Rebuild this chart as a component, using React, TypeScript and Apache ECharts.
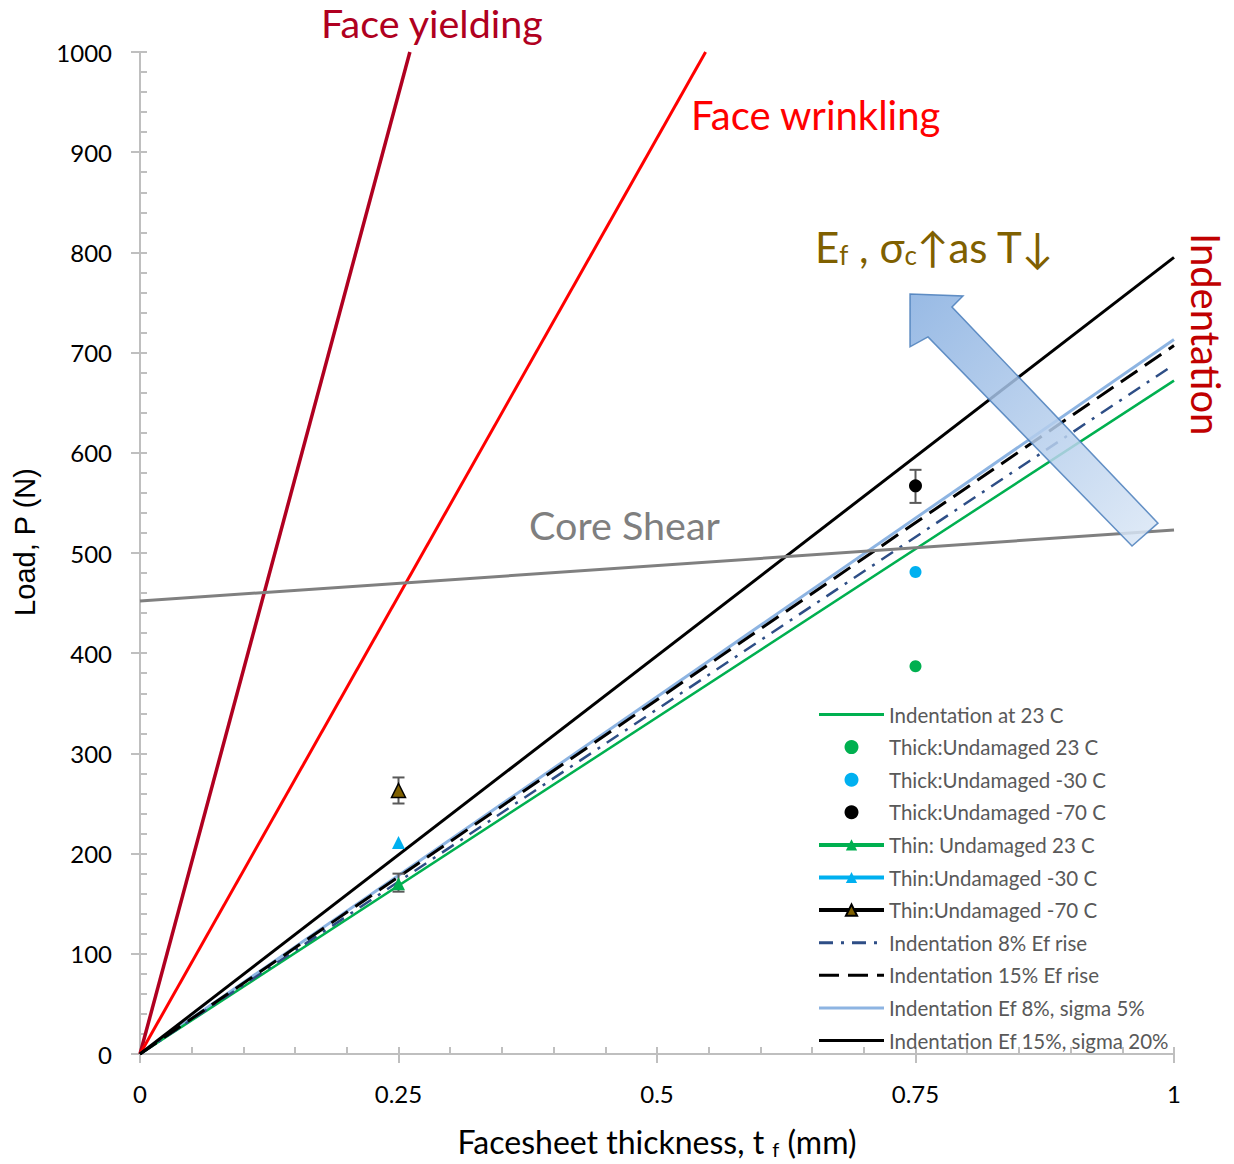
import React, { useEffect, useRef } from "react";
import * as echarts from "echarts";

// ---- data ----
const lineX = [0, 1];
const indent23 = [0, 672];
const indentEf8 = [0, 688];
const indentEf15 = [0, 707];
const indentEf8s5 = [0, 713];
const indentEf15s20 = [0, 795];
const coreShear = [452, 523];
const faceYieldX = [0, 0.261];
const faceYieldY = [0, 1000];
const faceWrinkleX = [0, 0.547];
const faceWrinkleY = [0, 1000];

const thickX = 0.75;
const thick23 = 387;
const thick30 = 481;
const thick70 = 567;
const thinX = 0.25;
const thin23 = 170;
const thin30 = 211;
const thin70 = 263;
// [x, low, high]
const errorBars = [
  [0.75, 550, 583],
  [0.25, 250, 276],
  [0.25, 162, 180],
];

// block arrow outline (data coordinates)
const arrowX = [0.7447, 0.7959, 0.7853, 0.9845, 0.9594, 0.7621, 0.7447];
const arrowY = [758.4, 756.5, 745.5, 529.8, 507.0, 715.7, 705.8];

const legendNames = [
  "Indentation at 23 C",
  "Thick:Undamaged 23 C",
  "Thick:Undamaged -30 C",
  "Thick:Undamaged -70 C",
  "Thin: Undamaged 23 C",
  "Thin:Undamaged -30 C",
  "Thin:Undamaged -70 C",
  "Indentation 8% Ef rise",
  "Indentation 15% Ef rise",
  "Indentation Ef 8%, sigma 5%",
  "Indentation Ef 15%, sigma 20%",
];
const lineOnly = new Set([
  "Indentation at 23 C",
  "Indentation 8% Ef rise",
  "Indentation 15% Ef rise",
  "Indentation Ef 8%, sigma 5%",
  "Indentation Ef 15%, sigma 20%",
]);
const thinNames = new Set(["Thin: Undamaged 23 C", "Thin:Undamaged -30 C", "Thin:Undamaged -70 C"]);

const FONT = "Lato, 'Open Sans', sans-serif";

const pair = (xs: number[], ys: number[]) => xs.map((x, i) => [x, ys[i]]);

export default function App() {
  const ref = useRef<HTMLDivElement>(null);
  useEffect(() => {
    if (!ref.current) return;
    const chart = echarts.init(ref.current, undefined, { renderer: "svg" });
    const axisGray = "#BFBFBF";
    const option: any = {
      animation: false,
      backgroundColor: "#fff",
      grid: { left: 140, right: 60, top: 52, bottom: 106, containLabel: false },
      xAxis: [
        {
          type: "value",
          min: 0,
          max: 1,
          interval: 0.25,
          axisLine: { lineStyle: { color: axisGray, width: 2 } },
          axisTick: { show: true, length: 9, inside: false, lineStyle: { color: axisGray, width: 2 } },
          splitLine: { show: false },
          axisLabel: {
            color: "#000",
            fontSize: 24,
            fontFamily: FONT,
            margin: 27,
            formatter: (v: number) => String(v),
          },
          name: "Facesheet thickness, t {s|f} (mm)",
          nameLocation: "middle",
          nameGap: 70,
          nameTextStyle: {
            color: "#000",
            fontSize: 32,
            fontFamily: FONT,
            rich: { s: { fontSize: 20, verticalAlign: "bottom", padding: [15, 0, 0, 0], fontFamily: FONT, color: "#000" } },
          },
        },
        {
          type: "value",
          min: 0,
          max: 1,
          interval: 0.05,
          position: "bottom",
          axisLine: { show: false },
          axisTick: { show: true, length: 7, inside: true, lineStyle: { color: axisGray, width: 2 } },
          axisLabel: { show: false },
          splitLine: { show: false },
        },
      ],
      yAxis: [
        {
          type: "value",
          min: 0,
          max: 1000,
          interval: 100,
          axisLine: { show: true, lineStyle: { color: axisGray, width: 2 } },
          axisTick: { show: true, length: 9, inside: false, lineStyle: { color: axisGray, width: 2 } },
          splitLine: { show: false },
          axisLabel: { color: "#000", fontSize: 24, fontFamily: FONT, margin: 28, formatter: (v: number) => String(v) },
        },
        {
          type: "value",
          min: 0,
          max: 1000,
          interval: 20,
          position: "left",
          axisLine: { show: false },
          axisTick: { show: true, length: 7, inside: true, lineStyle: { color: axisGray, width: 2 } },
          axisLabel: { show: false },
          splitLine: { show: false },
        },
      ],
      legend: {
        orient: "vertical",
        left: 812,
        top: 699,
        itemWidth: 65,
        itemHeight: 14,
        itemGap: 11.6,
        textStyle: { color: "#595959", fontSize: 20.5, fontFamily: FONT, lineHeight: 20 },
        data: legendNames.map((n) => {
          if (lineOnly.has(n)) return { name: n, itemStyle: { opacity: 0 }, lineStyle: { width: 3 } };
          if (thinNames.has(n)) return { name: n, lineStyle: { width: 4 } };
          return { name: n };
        }),
      },
      series: [
        {
          name: "Face yielding",
          type: "line",
          symbol: "none",
          data: pair(faceYieldX, faceYieldY),
          lineStyle: { color: "#B00020", width: 3.5 },
          z: 3,
        },
        {
          name: "Face wrinkling",
          type: "line",
          symbol: "none",
          data: pair(faceWrinkleX, faceWrinkleY),
          lineStyle: { color: "#FF0000", width: 3 },
          z: 3,
        },
        {
          name: "Core shear",
          type: "line",
          symbol: "none",
          data: pair(lineX, coreShear),
          lineStyle: { color: "#808080", width: 3 },
          z: 4,
        },
        {
          name: "Indentation at 23 C",
          type: "line",
          symbol: "none",
          data: pair(lineX, indent23),
          lineStyle: { color: "#00B050", width: 2.5 },
          itemStyle: { color: "#00B050" },
          z: 3,
        },
        {
          name: "Indentation 8% Ef rise",
          type: "line",
          symbol: "none",
          data: pair(lineX, indentEf8),
          lineStyle: { color: "#2E4E86", width: 2.5, type: [14, 8, 3, 8] },
          itemStyle: { color: "#2E4E86" },
          z: 3,
        },
        {
          name: "Indentation 15% Ef rise",
          type: "line",
          symbol: "none",
          data: pair(lineX, indentEf15),
          lineStyle: { color: "#000000", width: 3, type: [20, 9] },
          itemStyle: { color: "#000" },
          z: 3,
        },
        {
          name: "Indentation Ef 8%, sigma 5%",
          type: "line",
          symbol: "none",
          data: pair(lineX, indentEf8s5),
          lineStyle: { color: "#8DB4E2", width: 3 },
          itemStyle: { color: "#8DB4E2" },
          z: 2,
        },
        {
          name: "Indentation Ef 15%, sigma 20%",
          type: "line",
          symbol: "none",
          data: pair(lineX, indentEf15s20),
          lineStyle: { color: "#000000", width: 3 },
          itemStyle: { color: "#000" },
          z: 3,
        },
        {
          name: "Error bars",
          type: "custom",
          data: errorBars,
          encode: { x: 0, y: [1, 2] },
          z: 5,
          renderItem: (params: any, api: any) => {
            const x = api.value(0);
            const p1 = api.coord([x, api.value(1)]);
            const p2 = api.coord([x, api.value(2)]);
            const w = 6;
            const st = { stroke: "#595959", lineWidth: 2 };
            return {
              type: "group",
              children: [
                { type: "line", shape: { x1: p1[0], y1: p1[1], x2: p2[0], y2: p2[1] }, style: st },
                { type: "line", shape: { x1: p1[0] - w, y1: p1[1], x2: p1[0] + w, y2: p1[1] }, style: st },
                { type: "line", shape: { x1: p2[0] - w, y1: p2[1], x2: p2[0] + w, y2: p2[1] }, style: st },
              ],
            };
          },
        },
        {
          name: "Thick:Undamaged 23 C",
          type: "scatter",
          symbol: "circle",
          symbolSize: 12,
          data: [[thickX, thick23]],
          itemStyle: { color: "#00B050", opacity: 1 },
          z: 6,
        },
        {
          name: "Thick:Undamaged -30 C",
          type: "scatter",
          symbol: "circle",
          symbolSize: 12,
          data: [[thickX, thick30]],
          itemStyle: { color: "#00B0F0", opacity: 1 },
          z: 6,
        },
        {
          name: "Thick:Undamaged -70 C",
          type: "scatter",
          symbol: "circle",
          symbolSize: 13,
          data: [[thickX, thick70]],
          itemStyle: { color: "#000000", opacity: 1 },
          z: 6,
        },
        {
          name: "Thin: Undamaged 23 C",
          type: "line",
          symbol: "triangle",
          symbolSize: 13,
          showSymbol: true,
          data: [[thinX, thin23]],
          lineStyle: { color: "#00B050", width: 4 },
          itemStyle: { color: "#00B050" },
          z: 6,
        },
        {
          name: "Thin:Undamaged -30 C",
          type: "line",
          symbol: "triangle",
          symbolSize: 13,
          showSymbol: true,
          data: [[thinX, thin30]],
          lineStyle: { color: "#00B0F0", width: 4 },
          itemStyle: { color: "#00B0F0" },
          z: 6,
        },
        {
          name: "Thin:Undamaged -70 C",
          type: "line",
          symbol: "triangle",
          symbolSize: 14,
          showSymbol: true,
          data: [[thinX, thin70]],
          lineStyle: { color: "#000000", width: 4 },
          itemStyle: { color: "#7F6000", borderColor: "#000", borderWidth: 1.5 },
          z: 6,
        },
      ],
    };
    chart.setOption(option);

    const pts = arrowX.map((x, i) => chart.convertToPixel({ xAxisIndex: 0, yAxisIndex: 0 }, [x, arrowY[i]]) as number[]);

    chart.setOption({
      graphic: [
        {
          type: "polygon",
          z: 50,
          shape: { points: pts },
          style: {
            fill: new echarts.graphic.LinearGradient(0, 0, 1, 1, [
              { offset: 0, color: "#86AEE0" },
              { offset: 1, color: "#DCE8F6" },
            ]),
            opacity: 0.85,
            stroke: "#4A7EBB",
            lineWidth: 1.5,
          },
        },
        {
          type: "text",
          x: 25,
          y: 542,
          rotation: Math.PI / 2,
          z: 60,
          style: {
            text: "Load, P (N)",
            fill: "#000",
            fontSize: 29,
            fontFamily: "'Liberation Sans', Arial, sans-serif",
            align: "center",
            verticalAlign: "middle",
          },
        },
        {
          type: "text",
          left: 321,
          top: 2,
          z: 60,
          style: { text: "Face yielding", fill: "#B00020", fontSize: 39.5, fontFamily: FONT },
        },
        {
          type: "text",
          left: 691,
          top: 95,
          z: 60,
          style: { text: "Face wrinkling", fill: "#FF0000", fontSize: 40, fontFamily: FONT },
        },
        {
          type: "text",
          left: 529,
          top: 504,
          z: 60,
          style: { text: "Core Shear", fill: "#7F7F7F", fontSize: 39.5, fontFamily: FONT },
        },
        {
          type: "text",
          x: 1226,
          y: 233,
          rotation: -Math.PI / 2,
          z: 60,
          style: {
            text: "Indentation",
            fill: "#C00000",
            fontSize: 40,
            fontFamily: FONT,
            align: "left",
            verticalAlign: "top",
          },
        },
        {
          type: "text",
          left: 815,
          top: 226,
          z: 60,
          style: {
            text: "E{s|f} , σ{s|c}↑as T↓",
            fill: "#7F6000",
            fontSize: 42,
            fontFamily: FONT,
            rich: {
              s: { fontSize: 26, fill: "#7F6000", fontFamily: FONT, verticalAlign: "bottom", padding: [16, 0, 0, 0] },
            },
          },
        },
      ],
    });

    return () => chart.dispose();
  }, []);
  return (
    <div
      ref={ref}
      style={{ position: "absolute", left: 0, top: 0, width: 1234, height: 1164 }}
    />
  );
}
